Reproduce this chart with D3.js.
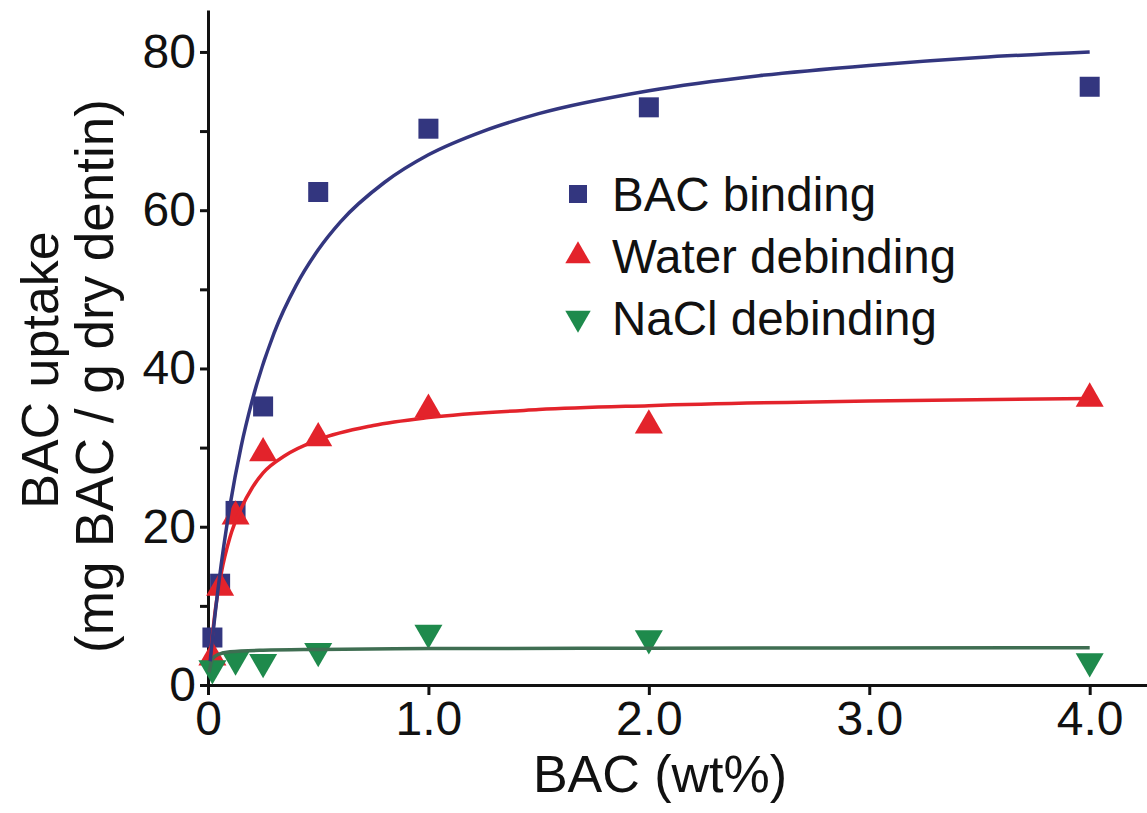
<!DOCTYPE html>
<html>
<head>
<meta charset="utf-8">
<script src="https://cdn.jsdelivr.net/npm/d3@7"></script>
<style>
  body { margin: 0; background: #fff; }
  text { font-family: "Liberation Sans", Arial, sans-serif; fill: #111; }
</style>
</head>
<body>
<div id="chart"></div>
<script>
// measured points
var bindX = [0.02, 0.055, 0.125, 0.25, 0.5, 1.0, 2.0, 4.0];
var bindY = [6.0, 12.8, 22.0, 35.2, 62.3, 70.3, 73.0, 75.6];
var waterX = [0.02, 0.055, 0.125, 0.25, 0.5, 1.0, 2.0, 4.0];
var waterY = [3.5, 12.3, 21.3, 29.3, 31.2, 34.8, 32.8, 36.2];
var naclX = [0.02, 0.125, 0.25, 0.5, 1.0, 2.0, 4.0];
var naclY = [2.1, 3.2, 2.9, 4.3, 6.6, 5.9, 3.0];

// fitted curves
var bindFitX = [0.01, 0.02, 0.05, 0.1, 0.15, 0.2, 0.3, 0.4, 0.5, 0.6, 0.8, 1.0, 1.25, 1.5, 2.0, 2.5, 3.0, 3.5, 4.0];
var bindFitY = [3.0, 5.8, 13.1, 22.7, 30.1, 35.9, 44.5, 50.5, 55.0, 58.5, 63.5, 67.0, 70.0, 72.2, 75.1, 77.0, 78.3, 79.3, 80.0];
var waterFitX = [0.01, 0.03, 0.06, 0.1, 0.15, 0.2, 0.25, 0.35, 0.5, 0.75, 1.0, 1.5, 2.0, 3.0, 4.0];
var waterFitY = [3.4, 8.8, 14.1, 18.7, 22.3, 24.9, 26.8, 29.0, 31.0, 32.8, 33.8, 34.8, 35.3, 35.9, 36.2];
var naclFitX = [0.005, 0.02, 0.05, 0.1, 0.25, 0.5, 1.0, 2.0, 4.0];
var naclFitY = [1.6, 3.3, 3.9, 4.2, 4.4, 4.5, 4.6, 4.65, 4.7];

var xTicks = [0, 1, 2, 3, 4];
var xTickLabels = ["0", "1.0", "2.0", "3.0", "4.0"];
var yTicks = [0, 20, 40, 60, 80];
var yMinor = [10, 30, 50, 70];
var legendNames = ["BAC binding", "Water debinding", "NaCl debinding"];

var blue = "#33367f", red = "#e3232b", green = "#1e8a4c", greenLine = "#3f6e52";

var W = 1147, H = 813;
var svg = d3.select("#chart").append("svg")
  .attr("width", W)
  .attr("height", H);

var x = d3.scaleLinear().domain([0, 4.26]).range([208, 1147]);
var y = d3.scaleLinear().domain([0, 85.3]).range([685, 10]);

function zip(xs, ys) {
  return xs.map(function(v, i) { return [v, ys[i]]; });
}

// axes
var xAxis = d3.axisBottom(x)
  .tickValues(xTicks)
  .tickFormat(function(d, i) { return xTickLabels[i]; })
  .tickSize(10).tickSizeOuter(0).tickPadding(6);
var yAxis = d3.axisLeft(y)
  .tickValues(yTicks)
  .tickFormat(d3.format("d"))
  .tickSize(8).tickSizeOuter(0).tickPadding(4);
var yAxisMinor = d3.axisLeft(y)
  .tickValues(yMinor)
  .tickFormat("")
  .tickSize(8).tickSizeOuter(0);

var gx = svg.append("g")
  .attr("transform", "translate(0," + y(0) + ")")
  .call(xAxis);
var gy = svg.append("g")
  .attr("transform", "translate(" + x(0) + ",0)")
  .call(yAxis);
var gym = svg.append("g")
  .attr("transform", "translate(" + x(0) + ",0)")
  .call(yAxisMinor);
gym.select(".domain").remove();

[gx, gy, gym].forEach(function(g) {
  g.selectAll("path, line").attr("stroke", "#111").attr("stroke-width", 3);
  g.selectAll("text").attr("font-size", 48).attr("fill", "#111")
    .attr("font-family", "Liberation Sans, Arial, sans-serif");
});

// markers
var sq = 20;
svg.append("g").selectAll("rect")
  .data(zip(bindX, bindY))
  .enter().append("rect")
  .attr("x", function(d) { return x(d[0]) - sq / 2; })
  .attr("y", function(d) { return y(d[1]) - sq / 2; })
  .attr("width", sq).attr("height", sq)
  .attr("fill", blue);

var triUp = d3.symbol().type(d3.symbolTriangle).size(340);
svg.append("g").selectAll("path")
  .data(zip(waterX, waterY))
  .enter().append("path")
  .attr("d", triUp)
  .attr("transform", function(d) { return "translate(" + x(d[0]) + "," + y(d[1]) + ")"; })
  .attr("fill", red);

svg.append("g").selectAll("path")
  .data(zip(naclX, naclY))
  .enter().append("path")
  .attr("d", triUp)
  .attr("transform", function(d) { return "translate(" + x(d[0]) + "," + y(d[1]) + ") rotate(180)"; })
  .attr("fill", green);

// fit lines on top
var line = d3.line()
  .x(function(d) { return x(d[0]); })
  .y(function(d) { return y(d[1]); })
  .curve(d3.curveMonotoneX);

svg.append("path").datum(zip(naclFitX, naclFitY))
  .attr("d", line).attr("fill", "none")
  .attr("stroke", greenLine).attr("stroke-width", 3.5);
svg.append("path").datum(zip(waterFitX, waterFitY))
  .attr("d", line).attr("fill", "none")
  .attr("stroke", red).attr("stroke-width", 3.5);
svg.append("path").datum(zip(bindFitX, bindFitY))
  .attr("d", line).attr("fill", "none")
  .attr("stroke", blue).attr("stroke-width", 3.5);

// legend
var legend = svg.append("g");
var rowY = [194, 256, 318];
legend.append("rect")
  .attr("x", 578 - 9).attr("y", rowY[0] - 9)
  .attr("width", 18).attr("height", 18)
  .attr("fill", blue);
legend.append("path")
  .attr("d", d3.symbol().type(d3.symbolTriangle).size(280))
  .attr("transform", "translate(578," + rowY[1] + ")")
  .attr("fill", red);
legend.append("path")
  .attr("d", d3.symbol().type(d3.symbolTriangle).size(280))
  .attr("transform", "translate(578," + rowY[2] + ") rotate(180)")
  .attr("fill", green);
legend.selectAll("text")
  .data(legendNames)
  .enter().append("text")
  .attr("x", 612)
  .attr("y", function(d, i) { return rowY[i] + 17; })
  .attr("font-size", 47.5)
  .text(function(d) { return d; });

// axis titles
svg.append("text")
  .attr("x", 660)
  .attr("y", 792)
  .attr("text-anchor", "middle")
  .attr("font-size", 52)
  .text("BAC (wt%)");

svg.append("text")
  .attr("transform", "translate(58,370) rotate(-90)")
  .attr("text-anchor", "middle")
  .attr("font-size", 52)
  .text("BAC uptake");
svg.append("text")
  .attr("transform", "translate(113,376) rotate(-90)")
  .attr("text-anchor", "middle")
  .attr("font-size", 53)
  .text("(mg BAC / g dry dentin)");
</script>
</body>
</html>
